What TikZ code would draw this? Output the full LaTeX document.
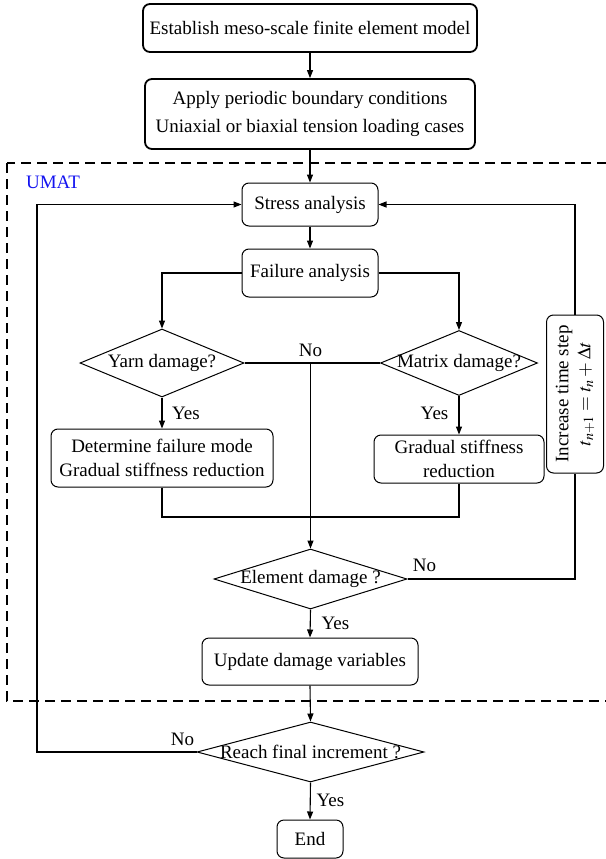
\documentclass[tikz,border=0pt]{standalone}
\usepackage{mathptmx}
\usepackage[no-math]{fontspec}
\setmainfont{Liberation Serif}
\usetikzlibrary{shapes.geometric,arrows.meta}
\definecolor{umatblue}{RGB}{20,20,240}
\begin{document}
\begin{tikzpicture}[x=1pt,y=-1pt, font=\fontsize{19}{24}\selectfont,
  box/.style={draw, rounded corners=7pt, line width=1pt, align=center, inner sep=0pt},
  bigbox/.style={box, line width=1.8pt},
  dia/.style={draw, diamond, aspect=1, inner sep=0pt, line width=1pt},
  arr/.style={-{Triangle[length=8pt,width=6pt]}, line width=1.1pt},
  ln/.style={line width=1.1pt},
  lbl/.style={inner sep=0pt}]
\useasboundingbox (0,0) rectangle (605,859);
% UMAT frame
\draw[dash pattern=on 10pt off 6pt, line width=1.1pt] (7,163) rectangle (625,701);
\node[lbl, text=umatblue] (umat) at (53,182) {UMAT};
% nodes
\node[bigbox, minimum width=334pt, minimum height=48pt] (model) at (310,28) {Establish meso-scale finite element model};
\node[bigbox, minimum width=330pt, minimum height=70pt, font=\fontsize{19}{28}\selectfont] (bc) at (310,114) {Apply periodic boundary conditions\\Uniaxial or biaxial tension loading cases};
\node[box, minimum width=136pt, minimum height=43pt] (stress) at (310,204.5) {Stress analysis};
\node[box, minimum width=136pt, minimum height=48pt] (fail) at (310,273) {Failure analysis};
\node[dia, minimum width=164pt, minimum height=68pt] (yarn) at (162,363) {\makebox[0pt]{Yarn damage?}};
\node[dia, minimum width=157pt, minimum height=65pt] (matrix) at (459,363) {\makebox[0pt]{Matrix damage?}};
\node[box, minimum width=222pt, minimum height=58pt] (mode) at (162,458) {Determine failure mode\\Gradual stiffness reduction};
\node[box, minimum width=170pt, minimum height=48pt] (grad) at (459,459) {Gradual stiffness\\reduction};
\node[box, minimum width=57pt, minimum height=158pt] (inc) at (575,394) {};
\node[lbl, rotate=90, align=center, font=\fontsize{19}{22}\selectfont] (inctext) at (inc.center) {Increase time step\\$t_{n+1}=t_n+\Delta t$};
\node[dia, minimum width=193pt, minimum height=60pt] (elem) at (310.5,579) {\makebox[0pt]{Element damage ?}};
\node[box, minimum width=216pt, minimum height=47pt] (upd) at (310,661.5) {Update damage variables};
\node[dia, minimum width=227pt, minimum height=60pt] (reach) at (310.5,752) {\makebox[0pt]{Reach final increment ?}};
\node[box, minimum width=66pt, minimum height=38pt] (end) at (310,839) {End};
% helper coordinates
\coordinate (nojoin) at (310.5,363);
\coordinate (merge) at (310.5,517);
\coordinate (loopx) at (37,500);
% connectors
\draw[arr] (model) -- (bc);
\draw[arr] (bc) -- (stress);
\draw[arr] (stress) -- (fail);
\draw[arr] (fail.west) -| (yarn.north);
\draw[arr] (fail.east) -| (matrix.north);
\draw[ln] (yarn.east) -- (matrix.west);
\draw[arr] (nojoin) -- (elem.north);
\draw[arr] (yarn.south) -- (mode.north);
\draw[arr] (matrix.south) -- (grad.north);
\draw[ln] (mode.south) |- (merge) -| (grad.south);
\draw[ln] (elem.east) -| (inc.south);
\draw[arr] (inc.north) |- (stress.east);
\draw[arr] (elem.south) -- (upd.north);
\draw[arr] (upd.south) -- (reach.north);
\draw[arr] (reach.west) -| (loopx) |- (stress.west);
\draw[arr] (reach.south) -- (end.north);
% labels
\node[lbl] (lno1) at (310.5,350) {No};
\node[lbl] (lyes1) at (186,413) {Yes};
\node[lbl] (lyes2) at (434.5,413) {Yes};
\node[lbl] (lno2) at (424.5,565) {No};
\node[lbl] (lyes3) at (335.5,623) {Yes};
\node[lbl] (lno3) at (182.5,739) {No};
\node[lbl] (lyes4) at (330.5,800) {Yes};
\end{tikzpicture}
\end{document}
